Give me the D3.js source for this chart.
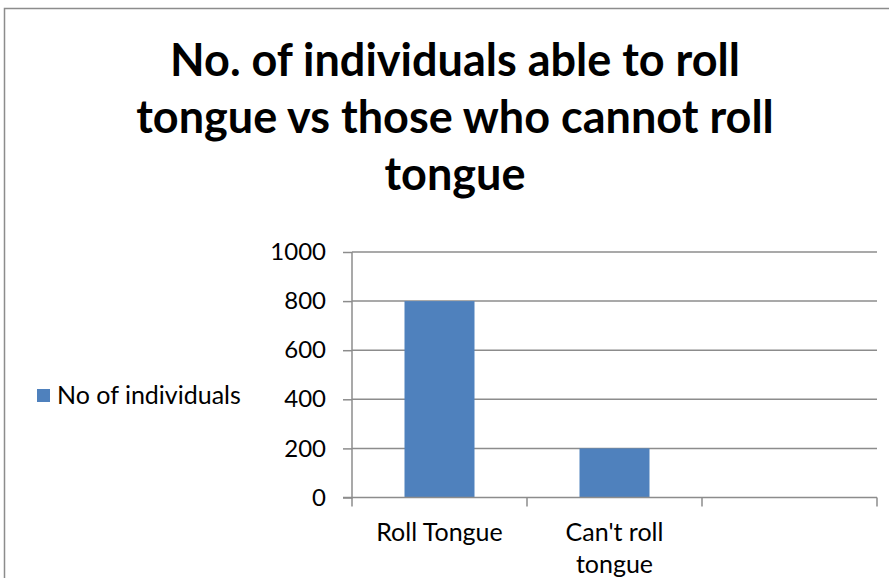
<!DOCTYPE html>
<html>
<head>
<meta charset="utf-8">
<script src="https://cdn.jsdelivr.net/npm/d3@7"></script>
<style>
  body { margin: 0; background: #fff; }
  text { font-family: Lato, "Open Sans", sans-serif; fill: #000; }
</style>
</head>
<body>
<div id="chart"></div>
<script>
// Chart data
var categories = ["Roll Tongue", "Can't roll tongue", ""];
var values = [800, 200, null];
var yTicks = [0, 200, 400, 600, 800, 1000];
var seriesName = "No of individuals";
var titleLines = ["No. of individuals able to roll", "tongue vs those who cannot roll", "tongue"];

var svgWidth = 889;
var svgHeight = 578;

// plot area
var plot = { left: 352, right: 877, top: 252, bottom: 497.5 };

var svg = d3.select("#chart")
  .append("svg")
  .attr("width", svgWidth)
  .attr("height", svgHeight);

// outer chart border (runs off the right and bottom)
svg.append("rect")
  .attr("x", 4.5)
  .attr("y", 8.5)
  .attr("width", 900)
  .attr("height", 600)
  .attr("fill", "none")
  .attr("stroke", "#8c8c8c")
  .attr("stroke-width", 1.5);

// Title
svg.append("text")
  .attr("text-anchor", "middle")
  .attr("font-size", "45px")
  .attr("font-weight", "bold")
  .selectAll("tspan")
  .data(titleLines)
  .enter()
  .append("tspan")
  .attr("x", 455)
  .attr("y", (d, i) => 76 + i * 57)
  .text(d => d);

// Scales
var xScale = d3.scaleBand()
  .domain(categories)
  .range([plot.left, plot.right])
  .padding(0);

var yScale = d3.scaleLinear()
  .domain([0, 1000])
  .range([plot.bottom, plot.top]);

// Gridlines
svg.append("g")
  .selectAll("line")
  .data(yTicks.filter(d => d > 0))
  .enter()
  .append("line")
  .attr("x1", plot.left)
  .attr("x2", plot.right)
  .attr("y1", d => yScale(d))
  .attr("y2", d => yScale(d))
  .attr("stroke", "#8c8c8c")
  .attr("stroke-width", 1.5);

// Bars
var barWidth = xScale.bandwidth() * 0.4;
svg.append("g")
  .selectAll("rect")
  .data(categories.map((c, i) => ({ cat: c, val: values[i] })).filter(d => d.val != null))
  .enter()
  .append("rect")
  .attr("x", d => xScale(d.cat) + (xScale.bandwidth() - barWidth) / 2)
  .attr("y", d => yScale(d.val))
  .attr("width", barWidth)
  .attr("height", d => yScale(0) - yScale(d.val))
  .attr("fill", "#4f81bd");

// Y axis
var leftAxis = d3.axisLeft(yScale)
  .tickValues(yTicks)
  .tickSize(9)
  .tickPadding(17)
  .tickFormat(d3.format("d"));

var yAxisG = svg.append("g")
  .attr("transform", `translate(${plot.left}, 0)`)
  .call(leftAxis);

yAxisG.select(".domain").remove();
yAxisG.append("line")
  .attr("y1", plot.top)
  .attr("y2", plot.bottom + 1)
  .attr("stroke", "#8c8c8c")
  .attr("stroke-width", 1.5);
yAxisG.selectAll(".tick line").attr("stroke", "#8c8c8c").attr("stroke-width", 1.5);
yAxisG.selectAll(".tick text")
  .attr("font-size", "24px")
  .attr("font-family", "Lato, sans-serif")
  .attr("fill", "#000");

// X axis line and category boundary ticks
svg.append("line")
  .attr("x1", plot.left - 9)
  .attr("x2", plot.right)
  .attr("y1", yScale(0))
  .attr("y2", yScale(0))
  .attr("stroke", "#8c8c8c")
  .attr("stroke-width", 1.5);

var boundaries = categories.map(c => xScale(c)).concat([plot.right]);
svg.append("g")
  .selectAll("line")
  .data(boundaries)
  .enter()
  .append("line")
  .attr("x1", d => d)
  .attr("x2", d => d)
  .attr("y1", yScale(0))
  .attr("y2", yScale(0) + 9)
  .attr("stroke", "#8c8c8c")
  .attr("stroke-width", 1.5);

// Category labels, wrapped to the band width
var catLabels = svg.append("g")
  .selectAll("text")
  .data(categories)
  .enter()
  .append("text")
  .attr("text-anchor", "middle")
  .attr("font-size", "25px")
  .attr("x", d => xScale(d) + xScale.bandwidth() / 2)
  .attr("y", 541);

catLabels.each(function (d) {
  var el = d3.select(this);
  var cx = xScale(d) + xScale.bandwidth() / 2;
  var words = d.split(" ");
  var line = [];
  var lineNo = 0;
  var tspan = el.append("tspan").attr("x", cx).attr("y", 541);
  words.forEach(function (w) {
    line.push(w);
    tspan.text(line.join(" "));
    if (tspan.node().getComputedTextLength() > xScale.bandwidth() * 0.8 && line.length > 1) {
      line.pop();
      tspan.text(line.join(" "));
      line = [w];
      lineNo++;
      tspan = el.append("tspan").attr("x", cx).attr("y", 541 + lineNo * 32).text(w);
    }
  });
});

// Legend
svg.append("rect")
  .attr("x", 37)
  .attr("y", 389)
  .attr("width", 13)
  .attr("height", 13)
  .attr("fill", "#4f81bd");

svg.append("text")
  .attr("x", 57)
  .attr("y", 404)
  .attr("font-size", "25px")
  .text(seriesName);
</script>
</body>
</html>
